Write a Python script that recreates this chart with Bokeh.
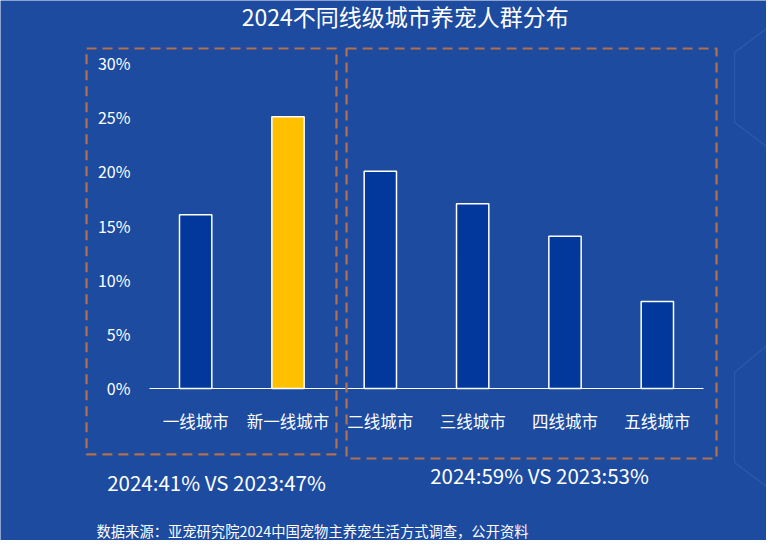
from bokeh.plotting import figure
from bokeh.models import Range1d, BoxAnnotation, Label, PolyAnnotation
from bokeh.core.properties import value
from bokeh.embed import file_html
from bokeh.resources import INLINE

# ---- data ----
categories = ["一线城市", "新一线城市", "二线城市", "三线城市", "四线城市", "五线城市"]
shares = [16, 25, 20, 17, 14, 8]  # percent
bar_colors = ["#02379b", "#ffc000", "#02379b", "#02379b", "#02379b", "#02379b"]
y_ticks = [0, 5, 10, 15, 20, 25, 30]
y_tick_labels = ["0%", "5%", "10%", "15%", "20%", "25%", "30%"]
title_text = "2024不同线级城市养宠人群分布"
left_note = "2024:41% VS 2023:47%"
right_note = "2024:59% VS 2023:53%"
source_note = "数据来源：亚宠研究院2024中国宠物主养宠生活方式调查，公开资料"

FONT = "Noto Sans CJK SC"
BG = "#1c4b9f"
DASH = "#b3714b"

xs = list(range(len(categories)))
n = len(categories)

# the whole canvas is the plotting frame; data units: 92.33 px per category, 10.867 px per %
p = figure(width=766, height=540, output_backend="svg", toolbar_location=None,
           x_range=Range1d(-2.1137, 6.1823), y_range=Range1d(-13.988, 35.706),
           x_axis_type=None, y_axis_type=None, min_border=0)
p.background_fill_color = BG
p.border_fill_color = BG
p.outline_line_color = None
p.grid.visible = False

# decorative hexagon outlines on the right
p.add_layout(PolyAnnotation(xs=[6.4, 5.836, 5.836, 6.4], ys=[34.5, 30.92, 24.48, 20.9],
                            fill_alpha=0, line_color="#6f95d8", line_alpha=0.22, line_width=1.2))
p.add_layout(PolyAnnotation(xs=[6.4, 5.836, 5.836, 6.4], ys=[5.5, 1.47, -6.81, -10.4],
                            fill_alpha=0, line_color="#6f95d8", line_alpha=0.22, line_width=1.2))

# bars
p.vbar(x=xs, top=shares, width=0.35, fill_color=bar_colors,
       line_color="white", line_width=1.5)

# x axis baseline
p.line(x=[-0.5, n - 0.5], y=[0, 0], line_color="white", line_width=1.2)

# y tick labels
p.text(x=[-0.706] * len(y_ticks), y=y_ticks, text=y_tick_labels,
       text_align="right", text_baseline="middle", text_color="white",
       text_font=value(FONT), text_font_size="16px")

# category labels
p.text(x=xs, y=[-1.9] * n, text=categories,
       text_align="center", text_baseline="top", text_color="white",
       text_font=value(FONT), text_font_size="16.5px")

# dashed group boxes
p.add_layout(BoxAnnotation(left=-1.182, right=1.525, bottom=-6.07, top=31.29,
                           fill_alpha=0, line_color=DASH, line_alpha=1.0,
                           line_width=2.2, line_dash="10 6"))
p.add_layout(BoxAnnotation(left=1.634, right=5.641, bottom=-6.44, top=31.29,
                           fill_alpha=0, line_color=DASH, line_alpha=1.0,
                           line_width=2.2, line_dash="10 6"))

# texts
p.add_layout(Label(x=2.27, y=34.3, text=title_text, text_align="center", text_baseline="middle",
                   text_color="white", text_font=FONT, text_font_size="23px"))
p.add_layout(Label(x=0.226, y=-8.65, text=left_note, text_align="center", text_baseline="middle",
                   text_color="white", text_font=FONT, text_font_size="20.5px"))
p.add_layout(Label(x=3.724, y=-8.0, text=right_note, text_align="center", text_baseline="middle",
                   text_color="white", text_font=FONT, text_font_size="20.5px"))
p.add_layout(Label(x=-1.074, y=-13.07, text=source_note, text_align="left", text_baseline="middle",
                   text_color="white", text_font=FONT, text_font_size="14.3px"))

open("out.html", "w").write(file_html(p, INLINE))
